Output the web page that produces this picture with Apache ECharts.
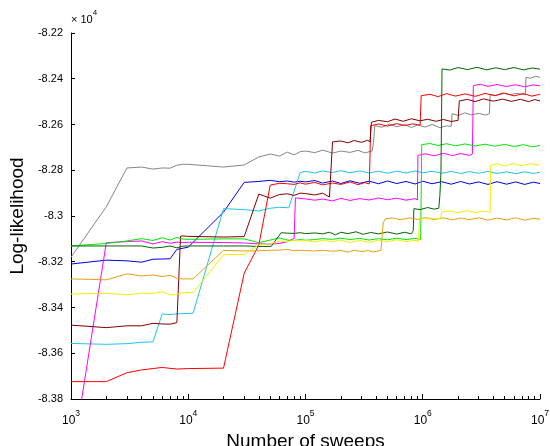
<!DOCTYPE html>
<html><head><meta charset="utf-8">
<script src="https://cdn.jsdelivr.net/npm/echarts@6/dist/echarts.min.js"></script>
<style>html,body{margin:0;padding:0;background:#fff}#c{width:550px;height:446px}</style>
</head><body><div id="c"></div>
<script>
// ---- axes ----
const xMajorTicks = [1e3, 1e4, 1e5, 1e6, 1e7];
const xMinorTicks = [2e3,3e3,4e3,5e3,6e3,7e3,8e3,9e3, 2e4,3e4,4e4,5e4,6e4,7e4,8e4,9e4,
                     2e5,3e5,4e5,5e5,6e5,7e5,8e5,9e5, 2e6,3e6,4e6,5e6,6e6,7e6,8e6,9e6];
const yMin = -8.38, yMax = -8.22, yStep = 0.02;
const xTitle = 'Number of sweeps';
const yTitle = 'Log-likelihood';

// ---- data: [sweeps, log-likelihood / 1e4] ----
const gray = [[1e3,-8.318],[2e3,-8.296],[3e3,-8.279],[4e3,-8.2786],[5e3,-8.2795],[6e3,-8.279],[7e3,-8.2791],[8e3,-8.2778],[9e3,-8.2774],[1e4,-8.2774],[2e4,-8.2786],[3e4,-8.2777],[4e4,-8.2742],[5e4,-8.2729],[6e4,-8.2738],[7e4,-8.2721],[8e4,-8.2733],[9e4,-8.2719],[1e5,-8.2716],[1.2e5,-8.2723],[1.4e5,-8.2712],[1.7e5,-8.2725],[2e5,-8.2716],[2.4e5,-8.2722],[2.8e5,-8.2713],[3.2e5,-8.2724],[3.7e5,-8.2716],[3.8e5,-8.2680],[3.9e5,-8.2605],[4.5e5,-8.2612],[5.2e5,-8.2598],[6e5,-8.2610],[7e5,-8.2600],[8e5,-8.2613],[9e5,-8.2602],[1.05e6,-8.2611],[1.2e6,-8.2600],[1.4e6,-8.2614],[1.6e6,-8.2606],[1.75e6,-8.2608],[1.78e6,-8.2553],[2e6,-8.2560],[2.3e6,-8.2549],[2.6e6,-8.2558],[3e6,-8.2551],[3.4e6,-8.2559],[3.7e6,-8.2553],[3.76e6,-8.2468],[4.2e6,-8.2473],[4.8e6,-8.2462],[5.5e6,-8.2470],[6.3e6,-8.2464],[7.5e6,-8.2470],[7.6e6,-8.2393],[8.3e6,-8.2398],[9.2e6,-8.2389],[1e7,-8.2394]];
const blue = [[1e3,-8.321],[2e3,-8.3193],[3e3,-8.3196],[4e3,-8.3202],[5e3,-8.3189],[6e3,-8.3188],[7e3,-8.3187],[8e3,-8.3146],[9e3,-8.3141],[1e4,-8.3136],[2e4,-8.2983],[3e4,-8.2853],[4e4,-8.2849],[5e4,-8.2844],[6e4,-8.2850],[7e4,-8.2847],[8e4,-8.2852],[9e4,-8.2848],[1e5,-8.2851],[1.2e5,-8.2845],[1.4e5,-8.2856],[1.7e5,-8.2847],[2e5,-8.2858],[2.4e5,-8.2846],[2.9e5,-8.2857],[3.5e5,-8.2848],[4.2e5,-8.2859],[5e5,-8.2847],[6e5,-8.2858],[7.2e5,-8.2849],[8.6e5,-8.2860],[1e6,-8.2848],[1.2e6,-8.2859],[1.45e6,-8.2850],[1.75e6,-8.2861],[2.1e6,-8.2849],[2.5e6,-8.2860],[3e6,-8.2851],[3.6e6,-8.2862],[4.3e6,-8.2850],[5.2e6,-8.2861],[6.2e6,-8.2851],[7.4e6,-8.2862],[8.8e6,-8.2852],[1e7,-8.2858]];
const cyan = [[1e3,-8.3557],[2e3,-8.3561],[3e3,-8.3558],[4e3,-8.3552],[5e3,-8.355],[6e3,-8.3428],[7e3,-8.3431],[8e3,-8.3428],[9e3,-8.3427],[1.1e4,-8.3425],[2e4,-8.2968],[3e4,-8.2972],[4e4,-8.2978],[5e4,-8.2966],[6e4,-8.2962],[7.2e4,-8.2964],[9e4,-8.2810],[1e5,-8.2805],[1.2e5,-8.2812],[1.4e5,-8.2803],[1.7e5,-8.2810],[2e5,-8.2802],[2.4e5,-8.2811],[2.9e5,-8.2803],[3.5e5,-8.2812],[4.2e5,-8.2804],[5e5,-8.2813],[6e5,-8.2804],[7.2e5,-8.2812],[8.6e5,-8.2803],[1e6,-8.2811],[1.2e6,-8.2804],[1.45e6,-8.2813],[1.75e6,-8.2805],[2.1e6,-8.2814],[2.5e6,-8.2806],[3e6,-8.2813],[3.6e6,-8.2805],[4.3e6,-8.2814],[5.2e6,-8.2807],[6.2e6,-8.2815],[7.4e6,-8.2807],[8.8e6,-8.2814],[1e7,-8.2809]];
const magenta = [[1e3,-8.4096],[2e3,-8.3117],[3e3,-8.3112],[4e3,-8.3109],[5e3,-8.3122],[6e3,-8.3112],[7e3,-8.3119],[8e3,-8.3114],[9e3,-8.3116],[1e4,-8.3115],[2e4,-8.3116],[3e4,-8.3118],[4e4,-8.3122],[5e4,-8.3123],[6e4,-8.3120],[7e4,-8.3112],[8e4,-8.3098],[8.2e4,-8.2921],[1e5,-8.2925],[1.2e5,-8.2931],[1.4e5,-8.2926],[1.7e5,-8.2934],[2e5,-8.2923],[2.4e5,-8.2932],[2.9e5,-8.2924],[3.5e5,-8.2930],[4.2e5,-8.2921],[5e5,-8.2929],[6e5,-8.2922],[7.2e5,-8.2931],[8.6e5,-8.2924],[9e5,-8.2930],[9.1e5,-8.2735],[1.05e6,-8.2728],[1.25e6,-8.2737],[1.5e6,-8.2726],[1.8e6,-8.2736],[2.1e6,-8.2727],[2.5e6,-8.2735],[2.65e6,-8.2729],[2.7e6,-8.2430],[3.1e6,-8.2424],[3.6e6,-8.2433],[4.3e6,-8.2425],[5.2e6,-8.2434],[6.2e6,-8.2426],[7.4e6,-8.2435],[8.8e6,-8.2427],[1e7,-8.2431]];
const red = [[1e3,-8.3724],[2e3,-8.3724],[3e3,-8.3685],[4e3,-8.3673],[5e3,-8.3667],[6e3,-8.3662],[7e3,-8.3666],[8e3,-8.3669],[9e3,-8.3668],[1e4,-8.3667],[2e4,-8.3665],[3e4,-8.325],[4e4,-8.3127],[5e4,-8.2865],[6e4,-8.2857],[7e4,-8.2859],[8e4,-8.2862],[9e4,-8.2855],[1e5,-8.2861],[1.2e5,-8.2853],[1.4e5,-8.2864],[1.7e5,-8.2856],[2e5,-8.2862],[2.4e5,-8.2851],[2.8e5,-8.2863],[3.2e5,-8.2854],[3.5e5,-8.2860],[3.6e5,-8.2605],[4.2e5,-8.2598],[5e5,-8.2607],[6e5,-8.2596],[7e5,-8.2605],[8.2e5,-8.2597],[9.5e5,-8.2603],[9.7e5,-8.2474],[1.15e6,-8.2468],[1.35e6,-8.2478],[1.6e6,-8.2465],[1.9e6,-8.2476],[2.3e6,-8.2466],[2.8e6,-8.2477],[3.4e6,-8.2464],[4.1e6,-8.2474],[5e6,-8.2463],[6e6,-8.2475],[7.2e6,-8.2465],[8.5e6,-8.2476],[1e7,-8.2468]];
const maroon = [[1e3,-8.3477],[2e3,-8.3488],[3e3,-8.348],[4e3,-8.348],[5e3,-8.3469],[6e3,-8.3472],[7e3,-8.3473],[8e3,-8.3466],[8.6e3,-8.3088],[9e3,-8.3087],[1e4,-8.3089],[2e4,-8.3092],[3e4,-8.3090],[4e4,-8.2904],[5e4,-8.2922],[6e4,-8.2906],[7e4,-8.2903],[8e4,-8.2910],[9e4,-8.2900],[1e5,-8.2902],[1.2e5,-8.2908],[1.4e5,-8.2900],[1.6e5,-8.2917],[1.7e5,-8.2676],[2e5,-8.2672],[2.3e5,-8.2680],[2.6e5,-8.2670],[3e5,-8.2678],[3.4e5,-8.2669],[3.55e5,-8.2676],[3.65e5,-8.2590],[4.2e5,-8.2582],[5e5,-8.2588],[5.8e5,-8.2576],[6.8e5,-8.2586],[8e5,-8.2575],[9.5e5,-8.2584],[1.1e6,-8.2577],[1.3e6,-8.2586],[1.5e6,-8.2578],[1.75e6,-8.2587],[2e6,-8.2582],[2.05e6,-8.2497],[2.4e6,-8.2490],[2.8e6,-8.2500],[3.3e6,-8.2488],[4e6,-8.2498],[4.8e6,-8.2489],[5.7e6,-8.2499],[6.8e6,-8.2490],[8e6,-8.2500],[9e6,-8.2491],[1e7,-8.2497]];
const lime = [[1e3,-8.3131],[2e3,-8.312],[3e3,-8.3109],[4e3,-8.3099],[5e3,-8.3107],[6e3,-8.3095],[7e3,-8.3105],[8e3,-8.3094],[9e3,-8.3101],[1e4,-8.3102],[2e4,-8.3100],[3e4,-8.3100],[4e4,-8.3117],[5e4,-8.3105],[6e4,-8.3096],[7e4,-8.3105],[8e4,-8.3107],[9e4,-8.3103],[1e5,-8.3106],[1.2e5,-8.3103],[1.4e5,-8.3099],[1.7e5,-8.3102],[2e5,-8.3097],[2.4e5,-8.3103],[2.9e5,-8.3098],[3.5e5,-8.3105],[4.2e5,-8.3099],[5e5,-8.3104],[6e5,-8.3097],[7.2e5,-8.3103],[8.6e5,-8.3098],[9.6e5,-8.3102],[9.8e5,-8.2688],[1.15e6,-8.2683],[1.35e6,-8.2692],[1.6e6,-8.2684],[1.9e6,-8.2693],[2.3e6,-8.2685],[2.8e6,-8.2694],[3.4e6,-8.2686],[4.1e6,-8.2695],[5e6,-8.2687],[6e6,-8.2696],[7.2e6,-8.2688],[8.5e6,-8.2697],[1e7,-8.2692]];
const darkGreen = [[1e3,-8.3131],[2e3,-8.3131],[3e3,-8.3131],[4e3,-8.3131],[5e3,-8.314],[6e3,-8.3137],[7e3,-8.3131],[8e3,-8.3139],[9e3,-8.3132],[1e4,-8.3131],[2e4,-8.3131],[3e4,-8.3131],[4e4,-8.3133],[5.1e4,-8.3133],[6.2e4,-8.3073],[7e4,-8.3075],[8e4,-8.3076],[9e4,-8.3073],[1e5,-8.3077],[1.2e5,-8.3074],[1.4e5,-8.3078],[1.6e5,-8.3071],[1.8e5,-8.3082],[2e5,-8.3071],[2.3e5,-8.3077],[2.7e5,-8.3069],[3.1e5,-8.3080],[3.6e5,-8.3072],[4.2e5,-8.3078],[5e5,-8.3070],[6e5,-8.3079],[7e5,-8.3071],[8e5,-8.3078],[8.3e5,-8.3064],[8.4e5,-8.2968],[9.5e5,-8.2972],[1.1e6,-8.2963],[1.25e6,-8.2970],[1.37e6,-8.2966],[1.4e6,-8.2910],[1.43e6,-8.2810],[1.46e6,-8.2357],[1.7e6,-8.2362],[2e6,-8.2351],[2.4e6,-8.2360],[2.9e6,-8.2350],[3.5e6,-8.2361],[4.2e6,-8.2352],[5e6,-8.2360],[6e6,-8.2351],[7.2e6,-8.2361],[8.6e6,-8.2353],[1e7,-8.2358]];
const orange = [[1e3,-8.3275],[2e3,-8.3279],[3e3,-8.3253],[4e3,-8.3262],[5e3,-8.3258],[6e3,-8.3265],[7e3,-8.3259],[8e3,-8.3272],[9e3,-8.3275],[1.1e4,-8.3275],[2e4,-8.3150],[3e4,-8.3153],[4e4,-8.3152],[5e4,-8.3150],[6e4,-8.3149],[7e4,-8.3146],[8e4,-8.3152],[9e4,-8.3150],[1e5,-8.3151],[1.2e5,-8.3153],[1.4e5,-8.3150],[1.7e5,-8.3154],[2e5,-8.3151],[2.3e5,-8.3158],[2.6e5,-8.3149],[3e5,-8.3156],[3.4e5,-8.3151],[3.8e5,-8.3157],[4.4e5,-8.3150],[4.6e5,-8.3030],[4.8e5,-8.3012],[5.5e5,-8.3009],[6.5e5,-8.3016],[7.7e5,-8.3008],[9e5,-8.3015],[1.05e6,-8.3007],[1.25e6,-8.3016],[1.5e6,-8.3008],[1.8e6,-8.3017],[2.1e6,-8.3009],[2.5e6,-8.3016],[3e6,-8.3008],[3.6e6,-8.3018],[4.3e6,-8.3009],[5.2e6,-8.3017],[6.2e6,-8.3008],[7.4e6,-8.3018],[8.8e6,-8.3010],[1e7,-8.3014]];
const yellow = [[1e3,-8.3341],[2e3,-8.3338],[3e3,-8.3344],[4e3,-8.3338],[5e3,-8.3338],[6e3,-8.3331],[7e3,-8.3345],[8e3,-8.3343],[9e3,-8.3335],[1.1e4,-8.3335],[2e4,-8.3169],[3e4,-8.3168],[4e4,-8.3126],[5e4,-8.3122],[6e4,-8.3110],[7e4,-8.3112],[8e4,-8.3106],[9e4,-8.3109],[1e5,-8.3107],[1.2e5,-8.3114],[1.4e5,-8.3106],[1.7e5,-8.3113],[2e5,-8.3105],[2.4e5,-8.3116],[2.9e5,-8.3107],[3.5e5,-8.3115],[4.2e5,-8.3106],[5e5,-8.3113],[6e5,-8.3104],[7.2e5,-8.3112],[8.6e5,-8.3106],[9.2e5,-8.3110],[9.4e5,-8.3015],[1.1e6,-8.3008],[1.3e6,-8.3013],[1.42e6,-8.3010],[1.45e6,-8.2983],[1.7e6,-8.2978],[2e6,-8.2986],[2.4e6,-8.2977],[2.8e6,-8.2985],[3.3e6,-8.2979],[3.75e6,-8.2984],[3.8e6,-8.2778],[4.3e6,-8.2772],[5e6,-8.2781],[5.9e6,-8.2771],[7e6,-8.2780],[8.3e6,-8.2772],[1e7,-8.2777]];

const runs = [
  {name: 'gray', data: gray, color: '#858585'},
  {name: 'blue', data: blue, color: '#0000e6'},
  {name: 'cyan', data: cyan, color: '#1ec3f0'},
  {name: 'magenta', data: magenta, color: '#ff00ff'},
  {name: 'red', data: red, color: '#ff0000'},
  {name: 'maroon', data: maroon, color: '#800000'},
  {name: 'lime', data: lime, color: '#00e600'},
  {name: 'darkGreen', data: darkGreen, color: '#006600'},
  {name: 'orange', data: orange, color: '#e6a010'},
  {name: 'yellow', data: yellow, color: '#f2f000'}
];

const FONT = '"Liberation Sans", Arial, Helvetica, sans-serif';
const chart = echarts.init(document.getElementById('c'), null, {renderer: 'canvas'});
chart.setOption({
  animation: false,
  backgroundColor: '#ffffff',
  grid: {left: 71, right: 10, top: 33, bottom: 47, containLabel: false, outerBoundsMode: 'none'},
  xAxis: [{
    type: 'log', logBase: 10, min: 1e3, max: 1e7,
    name: xTitle, nameLocation: 'middle', nameGap: 27,
    nameTextStyle: {fontFamily: FONT, fontSize: 19, color: '#000'},
    axisLine: {show: true, lineStyle: {color: '#000', width: 1}},
    axisTick: {show: true, inside: true, length: 5, customValues: xMajorTicks, lineStyle: {color: '#000'}},
    axisLabel: {
      show: true, customValues: xMajorTicks, margin: 10, color: '#000', fontFamily: FONT, hideOverlap: false,
      formatter: v => '{b|10}{s|' + Math.round(Math.log10(v)) + '}',
      rich: {
        b: {fontSize: 12, fontFamily: FONT, color: '#000', lineHeight: 18, verticalAlign: 'bottom'},
        s: {fontSize: 8.5, fontFamily: FONT, color: '#000', lineHeight: 8, verticalAlign: 'top'}
      }
    },
    splitLine: {show: false}, minorTick: {show: false}
  }, {
    type: 'log', logBase: 10, min: 1e3, max: 1e7, position: 'bottom',
    axisLine: {show: false},
    axisTick: {show: true, inside: true, length: 3, customValues: xMinorTicks, lineStyle: {color: '#000'}},
    axisLabel: {show: false}, splitLine: {show: false}
  }],
  yAxis: {
    type: 'value', min: yMin, max: yMax, interval: yStep,
    name: yTitle, nameLocation: 'middle', nameGap: 42, nameRotate: 90,
    nameTextStyle: {fontFamily: FONT, fontSize: 19, color: '#000'},
    axisLine: {show: true, lineStyle: {color: '#000', width: 1}},
    axisTick: {show: true, inside: true, length: 4, lineStyle: {color: '#000'}},
    axisLabel: {fontFamily: FONT, fontSize: 11, color: '#000', margin: 8, hideOverlap: false,
      formatter: v => String(parseFloat(v.toFixed(2)))},
    splitLine: {show: false}
  },
  graphic: [{
    type: 'text', left: 71, top: 9,
    style: {
      text: '{a|\u00d7 10}{s|4}',
      rich: {
        a: {fontSize: 11, fontFamily: FONT, fill: '#000', lineHeight: 16, verticalAlign: 'bottom'},
        s: {fontSize: 8, fontFamily: FONT, fill: '#000', lineHeight: 8, verticalAlign: 'top'}
      }
    }
  }],
  series: runs.map(r => ({
    name: r.name, type: 'line', xAxisIndex: 0, data: r.data,
    showSymbol: false, symbol: 'none', clip: true,
    lineStyle: {color: r.color, width: 1}, itemStyle: {color: r.color},
    emphasis: {disabled: true}
  }))
});
</script></body></html>
